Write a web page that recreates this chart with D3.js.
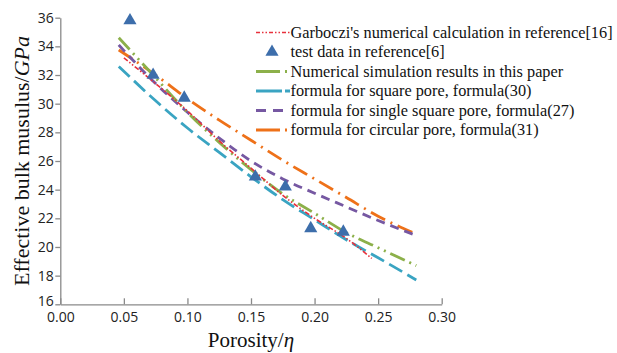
<!DOCTYPE html>
<html>
<head>
<meta charset="utf-8">
<script src="https://cdn.jsdelivr.net/npm/d3@7/dist/d3.min.js"></script>
<style>
  html, body { margin: 0; padding: 0; background: #ffffff; }
  svg { display: block; }
</style>
</head>
<body>
<svg id="chart" width="617" height="353"></svg>
<script>
// ---- data ----
const xTicks = [0.00, 0.05, 0.10, 0.15, 0.20, 0.25, 0.30];
const yTicks = [16, 18, 20, 22, 24, 26, 28, 30, 32, 34, 36];

const seriesNames = [
  "Garboczi's numerical calculation in reference[16]",
  "test data in reference[6]",
  "Numerical simulation results in this paper",
  "formula for square pore, formula(30)",
  "formula for single square pore, formula(27)",
  "formula for circular pore, formula(31)"
];

const garbocziPorosity = [0.050, 0.075, 0.100, 0.125, 0.150, 0.175, 0.200, 0.225, 0.245];
const garbocziModulus  = [33.2, 31.4, 29.5, 27.4, 25.5, 23.6, 22.0, 20.6, 19.2];

const testPorosity = [0.0548, 0.073, 0.0975, 0.1534, 0.177, 0.197, 0.2226];
const testModulus  = [35.8, 32.0, 30.4, 24.9, 24.2, 21.3, 21.05];

const porosity = [0.046, 0.075, 0.100, 0.125, 0.150, 0.175, 0.200, 0.225, 0.250, 0.280];
const simulationModulus   = [34.6, 31.8, 29.4, 27.3, 25.4, 23.7, 22.35, 21.0, 19.95, 18.7];
const squarePoreModulus   = [32.6, 30.2, 28.3, 26.6, 24.9, 23.3, 21.9, 20.5, 19.25, 17.7];
const singleSquareModulus = [34.1, 31.4, 29.4, 27.6, 26.0, 24.75, 23.75, 22.8, 21.85, 20.8];
const circularPoreModulus = [33.75, 32.0, 30.35, 28.85, 27.45, 26.05, 24.75, 23.45, 22.15, 20.9];

// ---- layout ----
const svg = d3.select("#chart");
const x = d3.scaleLinear().domain([0, 0.30]).range([60.3, 441.7]);
const y = d3.scaleLinear().domain([16, 36]).range([304.3, 17.7]);

const axisColor = "#8a8a8a";
const tickFont = "'Open Sans', 'DejaVu Sans', sans-serif";
const serif = "'Liberation Serif', serif";

// x axis (ticks point up, inside)
const xAxis = svg.append("g").attr("transform", `translate(0,${y(16)})`)
  .call(d3.axisBottom(x).tickValues(xTicks).tickFormat(d3.format(".2f")).tickSizeInner(-6).tickSizeOuter(0));
xAxis.select(".domain").attr("stroke", axisColor).attr("stroke-width", 1.3);
xAxis.selectAll(".tick line").attr("stroke", axisColor).attr("stroke-width", 1.3);
xAxis.selectAll(".tick text").attr("y", 8).attr("dy", "0.71em")
  .attr("font-family", tickFont).attr("font-size", 14).attr("fill", "#222");

// y axis (ticks point left)
const yAxis = svg.append("g").attr("transform", `translate(${x(0)},0)`)
  .call(d3.axisLeft(y).tickValues(yTicks).tickSizeInner(5).tickSizeOuter(0));
yAxis.select(".domain").attr("stroke", axisColor).attr("stroke-width", 1.3);
yAxis.selectAll(".tick line").attr("stroke", axisColor).attr("stroke-width", 1.3);
yAxis.selectAll(".tick text").attr("x", -6.5)
  .attr("dy", d => d === 16 ? "0.12em" : "0.32em")
  .attr("font-family", tickFont).attr("font-size", 14).attr("fill", "#222");

// axis titles
const yTitle = svg.append("text")
  .attr("transform", `translate(29,161) rotate(-90)`)
  .attr("text-anchor", "middle")
  .attr("font-family", serif).attr("font-size", 22).attr("fill", "#111");
yTitle.append("tspan").text("Effective bulk musulus/");
yTitle.append("tspan").attr("font-style", "italic").text("GPa");

const xTitle = svg.append("text")
  .attr("x", x(0.15)).attr("y", 346.5)
  .attr("text-anchor", "middle")
  .attr("font-family", serif).attr("font-size", 21).attr("fill", "#111");
xTitle.append("tspan").text("Porosity/");
xTitle.append("tspan").attr("font-style", "italic").text("\u03B7");

// ---- series ----
const styles = [
  { color: "#e8303c", width: 1.6, dash: "5,2,1.5,2,1.5,2" },
  null,
  { color: "#8cb04a", width: 2.8, dash: "16,5,2,5,2,5" },
  { color: "#3aa4c2", width: 2.8, dash: "15,6" },
  { color: "#7658a2", width: 2.8, dash: "9,6" },
  { color: "#ee7119", width: 2.8, dash: "16,6,2,6" }
];

const lineSeries = [
  { xs: porosity, ys: circularPoreModulus, s: styles[5] },
  { xs: porosity, ys: singleSquareModulus, s: styles[4] },
  { xs: porosity, ys: squarePoreModulus, s: styles[3] },
  { xs: porosity, ys: simulationModulus, s: styles[2] },
  { xs: garbocziPorosity, ys: garbocziModulus, s: styles[0] }
];

const line = d3.line().x(d => x(d[0])).y(d => y(d[1])).curve(d3.curveMonotoneX);
const plot = svg.append("g");
lineSeries.forEach(ser => {
  plot.append("path")
    .datum(ser.xs.map((v, i) => [v, ser.ys[i]]))
    .attr("d", line)
    .attr("fill", "none")
    .attr("stroke", ser.s.color)
    .attr("stroke-width", ser.s.width)
    .attr("stroke-dasharray", ser.s.dash);
});

const triColor = "#3d6eab";
const tri = d3.symbol().type(d3.symbolTriangle).size(75);
plot.selectAll("path.tri")
  .data(testPorosity.map((v, i) => [v, testModulus[i]]))
  .join("path").attr("class", "tri")
  .attr("transform", d => `translate(${x(d[0])},${y(d[1])})`)
  .attr("d", tri)
  .attr("fill", triColor);

// ---- legend ----
const legend = svg.append("g");
const rowY = [32.5, 52, 71.5, 91, 110.5, 130];
const legendDash = ["4,2,1.5,2,1.5,2", null, "24,5,2,10", "26,3,5,10", "10,7,10,10", "24,5,2,10"];
seriesNames.forEach((name, i) => {
  const cy = rowY[i];
  if (i === 1) {
    legend.append("path").attr("transform", `translate(272,${cy})`).attr("d", tri).attr("fill", triColor);
  } else {
    const st = styles[i];
    legend.append("line")
      .attr("x1", 256).attr("x2", 290).attr("y1", cy).attr("y2", cy)
      .attr("stroke", st.color).attr("stroke-width", st.width)
      .attr("stroke-dasharray", legendDash[i]);
  }
  legend.append("text")
    .attr("x", 290.5).attr("y", cy + 5)
    .attr("font-family", serif).attr("font-size", 16.3).attr("fill", "#111")
    .text(name);
});
</script>
</body>
</html>
